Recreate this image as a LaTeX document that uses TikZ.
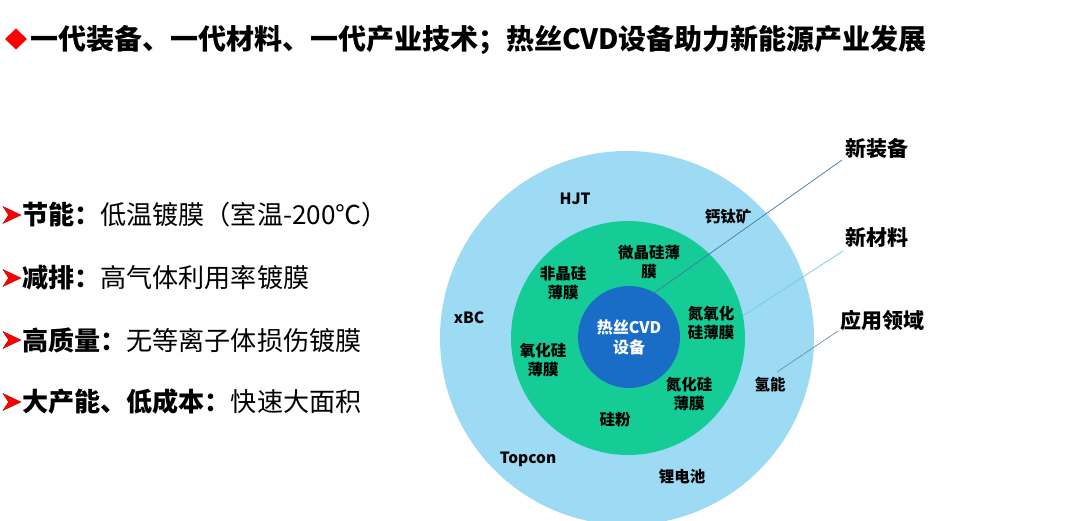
\documentclass[tikz,border=0pt]{standalone}
\usepackage{fontspec}
\setmainfont{Noto Sans CJK SC}
\newfontfamily\cjk{Noto Sans CJK SC}
\begin{document}
\begin{tikzpicture}[x=1pt,y=-1pt,
  ring/.style={font=\cjk\bfseries\fontsize{15.5}{19}\selectfont,align=center,inner sep=0pt,text=black},
  sidelab/.style={font=\cjk\bfseries\fontsize{21}{24}\selectfont,inner sep=0pt,text=black},
  item/.style={font=\cjk\fontsize{26.1}{30}\selectfont,anchor=west,inner sep=0pt,text=black},
  leader/.style={line width=0.7pt},
  bullet/.style={fill=red,draw=red!60!black,line width=0.3pt}
]
\definecolor{ringblue}{HTML}{9DDBF4}
\definecolor{ringgreen}{HTML}{15CC97}
\definecolor{coreblue}{HTML}{1A6DC6}
\definecolor{leadA}{HTML}{3F79A8}
\definecolor{leadB}{HTML}{6FD0D0}
\definecolor{leadC}{HTML}{6F8CA6}
\useasboundingbox (0,0) rectangle (1080,521);
\fill[white] (0,0) rectangle (1080,521);

% title
\fill[red] (5,39) -- (16,28.5) -- (27,39) -- (16,49.5) -- cycle;
\node[font=\cjk\bfseries\fontsize{28}{32}\selectfont,anchor=west,inner sep=0pt] (title) at (30,40) {一代装备、一代材料、一代产业技术；热丝CVD设备助力新能源产业发展};

% left list
\foreach \yy in {215,278,340,402}{
  \fill[bullet] (3,\yy-8.5) -- (21,\yy) -- (3,\yy+8.5) -- (8.5,\yy) -- cycle;
}
\node[item] (l1) at (22,215) {\textbf{节能：}低温镀膜（室温-200℃）};
\node[item] (l2) at (22,278) {\textbf{减排：}高气体利用率镀膜};
\node[item] (l3) at (22,340) {\textbf{高质量：}无等离子体损伤镀膜};
\node[item] (l4) at (22,402) {\textbf{大产能、低成本：}快速大面积};

% circles
\node[circle,fill=ringblue,minimum size=374pt,inner sep=0pt] (outer) at (627,338) {};
\node[circle,fill=ringgreen,minimum size=234pt,inner sep=0pt] (mid) at (628,338) {};
\node[circle,fill=coreblue,minimum size=102pt,inner sep=0pt] (core) at (629,337) {};
\node[ring,text=white,font=\cjk\bfseries\fontsize{16}{20}\selectfont] (coret) at (629,337) {热丝CVD\\设备};

% inner ring labels
\node[ring] (wj) at (649,262) {微晶硅薄\\膜};
\node[ring] (fj) at (563,283) {非晶硅\\薄膜};
\node[ring] (dy) at (711,323) {氮氧化\\硅薄膜};
\node[ring] (yh) at (543,360) {氧化硅\\薄膜};
\node[ring] (dh) at (689,394) {氮化硅\\薄膜};
\node[ring] (gf) at (615,420) {硅粉};

% outer ring labels
\node[ring] (hjt) at (575,199) {HJT};
\node[ring] (gtk) at (728,217) {钙钛矿};
\node[ring] (xbc) at (469,318) {xBC};
\node[ring] (qn) at (770,385) {氢能};
\node[ring] (top) at (528,459) {Topcon};
\node[ring] (ldc) at (682,477) {锂电池};

% side labels
\node[sidelab] (xzb) at (877,149) {新装备};
\node[sidelab] (xcl) at (877,237) {新材料};
\node[sidelab] (yy) at (882,320) {应用领域};

\coordinate (pA) at (842,160);
\coordinate (pB) at (843,251);
\coordinate (pC) at (838,331);
\coordinate (eC) at (777,372);
\draw[leader,leadA] (pA) -- (core.60);
\draw[leader,leadB] (pB) -- (mid.11);
\draw[leader,leadC] (pC) -- (eC);
\end{tikzpicture}
\end{document}
